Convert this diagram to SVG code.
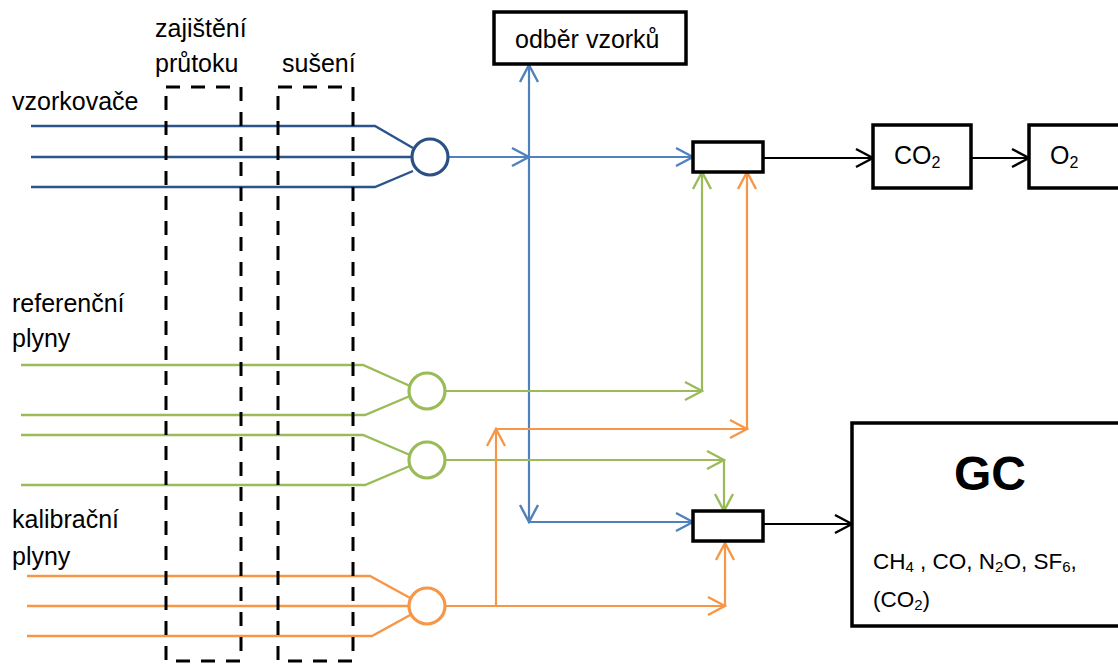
<svg xmlns="http://www.w3.org/2000/svg" width="1118" height="664" viewBox="0 0 1118 664">
<style>
text{font-family:"Liberation Sans",Arial,sans-serif;font-size:25px;fill:#000}
.sub{font-size:16px}
.gct{font-size:22.5px}
.gct .sub{font-size:15px}
.dash{fill:none;stroke:#000;stroke-width:3;stroke-dasharray:14 11}
.box{fill:#fff;stroke:#000;stroke-width:3.5}
.in-b{fill:none;stroke:#2B558A;stroke-width:2.4}
.in-g{fill:none;stroke:#9BBB59;stroke-width:2.4}
.in-o{fill:none;stroke:#F79646;stroke-width:2.4}
.c-b{fill:#fff;stroke:#2A5084;stroke-width:3.2}
.c-g{fill:#fff;stroke:#9BBB59;stroke-width:3.2}
.c-o{fill:#fff;stroke:#F79646;stroke-width:3.2}
.a-b{fill:none;stroke:#4F81BD;stroke-width:2.2;marker-end:url(#mb)}
.a-g{fill:none;stroke:#9BBB59;stroke-width:2.2;marker-end:url(#mg)}
.a-o{fill:none;stroke:#F79646;stroke-width:2.2;marker-end:url(#mo)}
.a-k{fill:none;stroke:#000;stroke-width:2;marker-end:url(#mk)}
</style>
<defs>
<marker id="mb" markerUnits="userSpaceOnUse" viewBox="-20 -12 22 24" markerWidth="22" markerHeight="24" refX="0" refY="0" orient="auto"><path d="M-17,-9 L0,0 L-17,9" fill="none" stroke="#4F81BD" stroke-width="2.4"/></marker>
<marker id="mg" markerUnits="userSpaceOnUse" viewBox="-20 -12 22 24" markerWidth="22" markerHeight="24" refX="0" refY="0" orient="auto"><path d="M-17,-9 L0,0 L-17,9" fill="none" stroke="#9BBB59" stroke-width="2.4"/></marker>
<marker id="mo" markerUnits="userSpaceOnUse" viewBox="-20 -12 22 24" markerWidth="22" markerHeight="24" refX="0" refY="0" orient="auto"><path d="M-17,-9 L0,0 L-17,9" fill="none" stroke="#F79646" stroke-width="2.4"/></marker>
<marker id="mk" markerUnits="userSpaceOnUse" viewBox="-20 -12 22 24" markerWidth="22" markerHeight="24" refX="0" refY="0" orient="auto"><path d="M-17,-9 L0,0 L-17,9" fill="none" stroke="#000" stroke-width="2.4"/></marker>
</defs>
<rect width="1118" height="664" fill="#fff"/>

<g id="labels">
<text x="155" y="37">zajištění</text>
<text x="155" y="72">průtoku</text>
<text x="282" y="72">sušení</text>
<text x="12" y="110">vzorkovače</text>
<text x="12" y="312">referenční</text>
<text x="12" y="347">plyny</text>
<text x="12" y="528">kalibrační</text>
<text x="12" y="565">plyny</text>
</g>

<g id="inputs">
<path class="in-b" d="M31,126 H375 L413,148 M31,157 H412 M31,187 H375 L413,171"/>
<path class="in-g" d="M21,365 H363 L410,386 M21,415 H365 L410,396"/>
<path class="in-g" d="M21,435 H363 L410,455 M21,485 H365 L410,466"/>
<path class="in-o" d="M27,576 H370 L412,599 M27,606 H409 M27,636 H372 L412,614"/>
</g>

<g id="flow-control"><rect class="dash" x="166" y="87" width="75" height="574"/></g>
<g id="drying"><rect class="dash" x="278" y="87" width="75" height="574"/></g>

<g id="connectors">
<path class="a-b" d="M448,157 H529"/>
<path class="a-b" d="M529,157 H693"/>
<path class="a-b" d="M529,157 V65"/>
<path class="a-b" d="M529,157 V522"/>
<path class="a-b" d="M529,522 H693"/>
<path class="a-g" d="M445,391 H702"/>
<path class="a-g" d="M702,391 V172"/>
<path class="a-g" d="M445,460 H724"/>
<path class="a-g" d="M724,460 V511"/>
<path class="a-o" d="M445,606 H725"/>
<path class="a-o" d="M725,606 V543"/>
<path class="a-o" d="M496,606 V429"/>
<path class="a-o" d="M496,429 H747"/>
<path class="a-o" d="M747,429 V172"/>
<path class="a-k" d="M763,158 H873"/>
<path class="a-k" d="M971,158 H1029"/>
<path class="a-k" d="M763,524 H852"/>
</g>

<g id="junction-samplers"><circle class="c-b" cx="430" cy="157" r="18"/></g>
<g id="junction-ref1"><circle class="c-g" cx="427" cy="391" r="18"/></g>
<g id="junction-ref2"><circle class="c-g" cx="427" cy="460" r="18"/></g>
<g id="junction-cal"><circle class="c-o" cx="427" cy="606" r="18"/></g>

<g id="sampling"><rect class="box" x="494" y="12" width="192" height="52"/><text x="515" y="48">odběr vzorků</text></g>
<g id="valve1"><rect class="box" x="693" y="142" width="70" height="30"/></g>
<g id="valve2"><rect class="box" x="693" y="511" width="70" height="30"/></g>
<g id="co2"><rect class="box" x="873" y="125" width="98" height="63"/><text x="894" y="164">CO<tspan class="sub" dy="4">2</tspan></text></g>
<g id="o2"><rect class="box" x="1029" y="125" width="100" height="63"/><text x="1050" y="164">O<tspan class="sub" dy="4">2</tspan></text></g>
<g id="gc"><rect class="box" x="852" y="423" width="280" height="203"/>
<text x="990" y="490" text-anchor="middle" style="font-size:48px;font-weight:bold">GC</text>
<text class="gct" x="873" y="569">CH<tspan class="sub" dy="3">4</tspan><tspan dy="-3"> , CO, N</tspan><tspan class="sub" dy="3">2</tspan><tspan dy="-3">O, SF</tspan><tspan class="sub" dy="3">6</tspan><tspan dy="-3">,</tspan></text>
<text class="gct" x="873" y="607">(CO<tspan class="sub" dy="3">2</tspan><tspan dy="-3">)</tspan></text>
</g>
</svg>
